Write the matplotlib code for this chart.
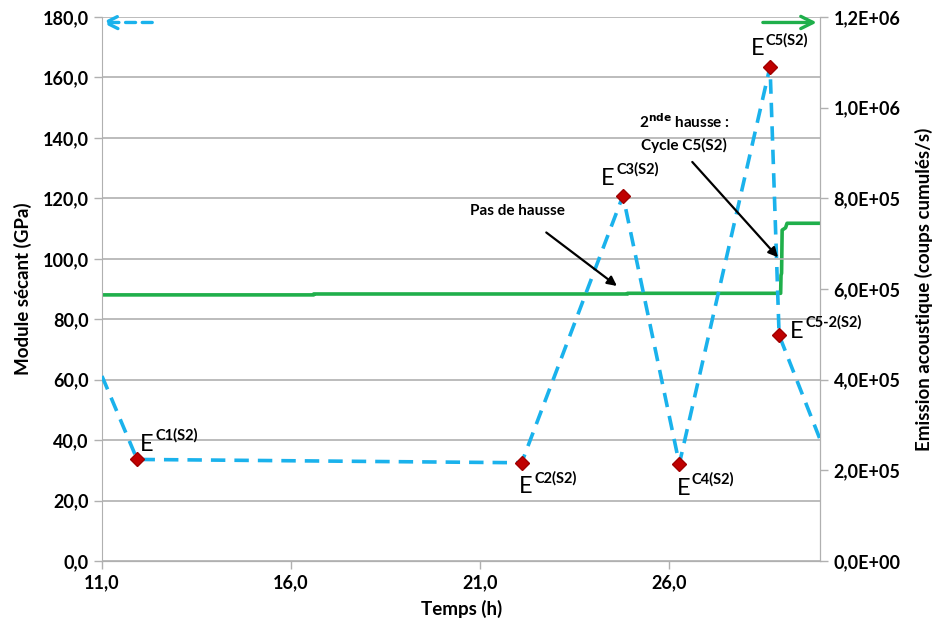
import numpy as np
import matplotlib.pyplot as plt
from matplotlib.ticker import FuncFormatter

plt.rcParams['font.family'] = ['Lato', 'DejaVu Sans']

# Module sécant (axe gauche)
temps_module = [11.0, 11.93, 22.1, 24.78, 26.27, 28.67, 28.91, 30.0]
module = [61.2, 33.6, 32.5, 120.9, 32.1, 163.6, 74.7, 40.0]
labels_pts = ["C1(S2)", "C2(S2)", "C3(S2)", "C4(S2)", "C5(S2)", "C5-2(S2)"]

# Emission acoustique (axe droit)
temps_ea = [11.0, 16.6, 16.6, 24.9, 24.9, 28.95, 28.96, 28.975, 28.99, 29.08, 29.12, 30.0]
ea = [5.87e5, 5.87e5, 5.89e5, 5.89e5, 5.905e5, 5.905e5, 6.3e5, 6.35e5, 7.3e5, 7.35e5, 7.45e5, 7.45e5]

blue = '#1AB2EC'
green = '#1FAF4B'
grid_c = '#B0B0B0'

fig = plt.figure(figsize=(9.44, 6.31), dpi=100)
ax = fig.add_axes([0.108, 0.111, 0.761, 0.862])
ax2 = ax.twinx()

ax.plot(temps_module, module, color=blue, lw=2.6, dashes=(4, 2.5), zorder=3)
ax.plot(temps_module[1:7], module[1:7], ls='none', marker='D', ms=7,
        color='#C00000', markeredgecolor='#A00000', zorder=4)
ax2.plot(temps_ea, ea, color=green, lw=2.6)

ax.set_xlim(11, 30)
ax.set_ylim(0, 180)
ax2.set_ylim(0, 1.2e6)
ax.set_xticks([11, 16, 21, 26])
ax.set_yticks(np.arange(0, 181, 20))
ax2.set_yticks(np.arange(0, 1.21e6, 2e5))
ax.xaxis.set_major_formatter(FuncFormatter(lambda v, p: f"{v:.1f}".replace('.', ',')))
ax.yaxis.set_major_formatter(FuncFormatter(lambda v, p: f"{v:.1f}".replace('.', ',')))
ax2.yaxis.set_major_formatter(FuncFormatter(
    lambda v, p: f"{v:.1E}".replace('.', ',')))

ax.grid(axis='y', color=grid_c, lw=1.2)
for a in (ax, ax2):
    for s in a.spines.values():
        s.set_color(grid_c)
    a.spines['top'].set_visible(False)
    a.tick_params(colors='black', labelsize=13, length=6, width=1, color=grid_c)
    for t in a.get_xticklabels() + a.get_yticklabels():
        t.set_fontweight('bold')
ax2.spines['left'].set_visible(False)
ax.set_zorder(ax2.get_zorder() + 1)
ax.patch.set_visible(False)

ax.set_xlabel("Temps (h)", fontsize=13.5, fontweight='bold', labelpad=6)
ax.set_ylabel("Module sécant (GPa)", fontsize=13.5, fontweight='bold', labelpad=8)
ax2.set_ylabel("Emission acoustique (coups cumulés/s)", fontsize=13.5,
               fontweight='bold', labelpad=10)

# étiquettes des points
offsets = [(2, 6), (-2, -22), (-16, 8), (-2, -22), (-14, 8), (8, -2)]
for x, y, lab, (dx, dy) in zip(temps_module[1:7], module[1:7], labels_pts, offsets):
    ax.annotate("E", (x, y), xytext=(dx, dy), textcoords='offset points',
                fontsize=17, zorder=5)
    ax.annotate(lab, (x, y), xytext=(dx + 11, dy + 8), textcoords='offset points',
                fontsize=10.5, fontweight='bold', zorder=5)

# flèches d'axe
ax.annotate("", xy=(0.0, 0.99), xytext=(0.07, 0.99), xycoords='axes fraction',
            arrowprops=dict(arrowstyle='->', color=blue, lw=2.4, ls=(0, (3, 2)),
                            shrinkA=0, shrinkB=0, mutation_scale=22))
ax.annotate("", xy=(0.995, 0.99), xytext=(0.92, 0.99), xycoords='axes fraction',
            arrowprops=dict(arrowstyle='->', color=green, lw=2.4,
                            shrinkA=0, shrinkB=0, mutation_scale=22))

# annotations
ax.annotate("Pas de hausse", xy=(24.62, 91.0), xytext=(22.0, 114.5),
            fontsize=11, fontweight='bold', ha='center',
            arrowprops=dict(arrowstyle='-|>', color='black', lw=1.6,
                            shrinkA=14, shrinkB=0, mutation_scale=14))
ax.annotate("2$^{\\mathbf{nde}}$ hausse :\nCycle C5(S2)", xy=(28.88, 100.5),
            xytext=(26.4, 136), fontsize=11, fontweight='bold', ha='center',
            linespacing=1.6,
            arrowprops=dict(arrowstyle='-|>', color='black', lw=1.6,
                            shrinkA=6, shrinkB=0, mutation_scale=14,
                            relpos=(0.5, 0.0)))

fig.savefig("out.png", dpi=100)
